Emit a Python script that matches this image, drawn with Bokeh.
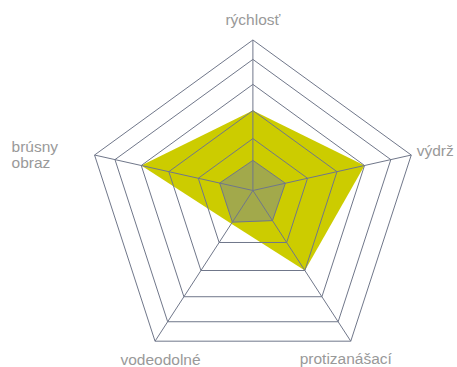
import numpy as np
from bokeh.plotting import figure
from bokeh.models import Range1d
from bokeh.embed import file_html
from bokeh.resources import INLINE
from bokeh.core.properties import value

# ---- data ----
categories = ["rýchlosť", "výdrž", "protizanášací", "vodeodolné", "brúsny obraz"]
ring_levels = [0.345, 0.531, 0.705, 0.871, 1.0]
series_yellow = [0.531, 0.705, 0.531, 0.22, 0.705]
series_gray = [0.20, 0.205, 0.20, 0.21, 0.21]

# ---- geometry / style ----
W, H = 457, 367
PX = 166.5            # pixels per radial unit
cx, cy = 252.4, 190.0  # spoke centre inside the figure (px from top-left)
offset = 0.096        # outer pentagon centre sits slightly below the spoke centre

angles = np.deg2rad([90, 18, -54, -126, 162])
vx = np.cos(angles)
vy = np.sin(angles) - offset

GRID = "#70778a"
TEXT = "#999999"
FONT = "Liberation Sans"

p = figure(width=W, height=H, output_backend="svg", toolbar_location=None,
           x_range=Range1d(-cx / PX, (W - cx) / PX),
           y_range=Range1d(-(H - cy) / PX, cy / PX),
           min_border=0, outline_line_color=None, background_fill_color="white",
           border_fill_color="white")
p.axis.visible = False
p.grid.visible = False


def poly(vals):
    v = np.asarray(vals)
    return list(v * vx), list(v * vy)


# series fills
xs, ys = poly(series_yellow)
p.patch(xs, ys, fill_color="#cccc00", line_color=None)
xs, ys = poly(series_gray)
p.patch(xs, ys, fill_color="#a2a94b", line_color=GRID, line_width=1)

# rings
for lv in ring_levels:
    xs, ys = poly([lv] * 5)
    p.patch(xs + [xs[0]], ys + [ys[0]], fill_color=None, line_color=GRID, line_width=1)

# spokes
p.segment(x0=[0] * 5, y0=[0] * 5, x1=list(vx), y1=list(vy), line_color=GRID, line_width=1)

# labels
lab = dict(
    x=[vx[0], vx[1], vx[2], vx[3], vx[4], vx[4]],
    y=[vy[0], vy[1], vy[2], vy[3], vy[4], vy[4]],
    text=[categories[0], categories[1], categories[2], categories[3],
          categories[4].split(" ")[0], categories[4].split(" ")[1]],
    xo=[0, 5.5, -5, 5.5, -83, -83],
    yo=[-20, -4.5, 17, 18, -9, 7.5],
    align=["center", "left", "center", "center", "left", "left"],
)
p.text(x="x", y="y", text="text", x_offset="xo", y_offset="yo", text_align="align",
       source=lab, text_baseline="alphabetic", text_color=TEXT,
       text_font=value(FONT), text_font_size="15.5px")

open("out.html", "w").write(file_html(p, INLINE))
